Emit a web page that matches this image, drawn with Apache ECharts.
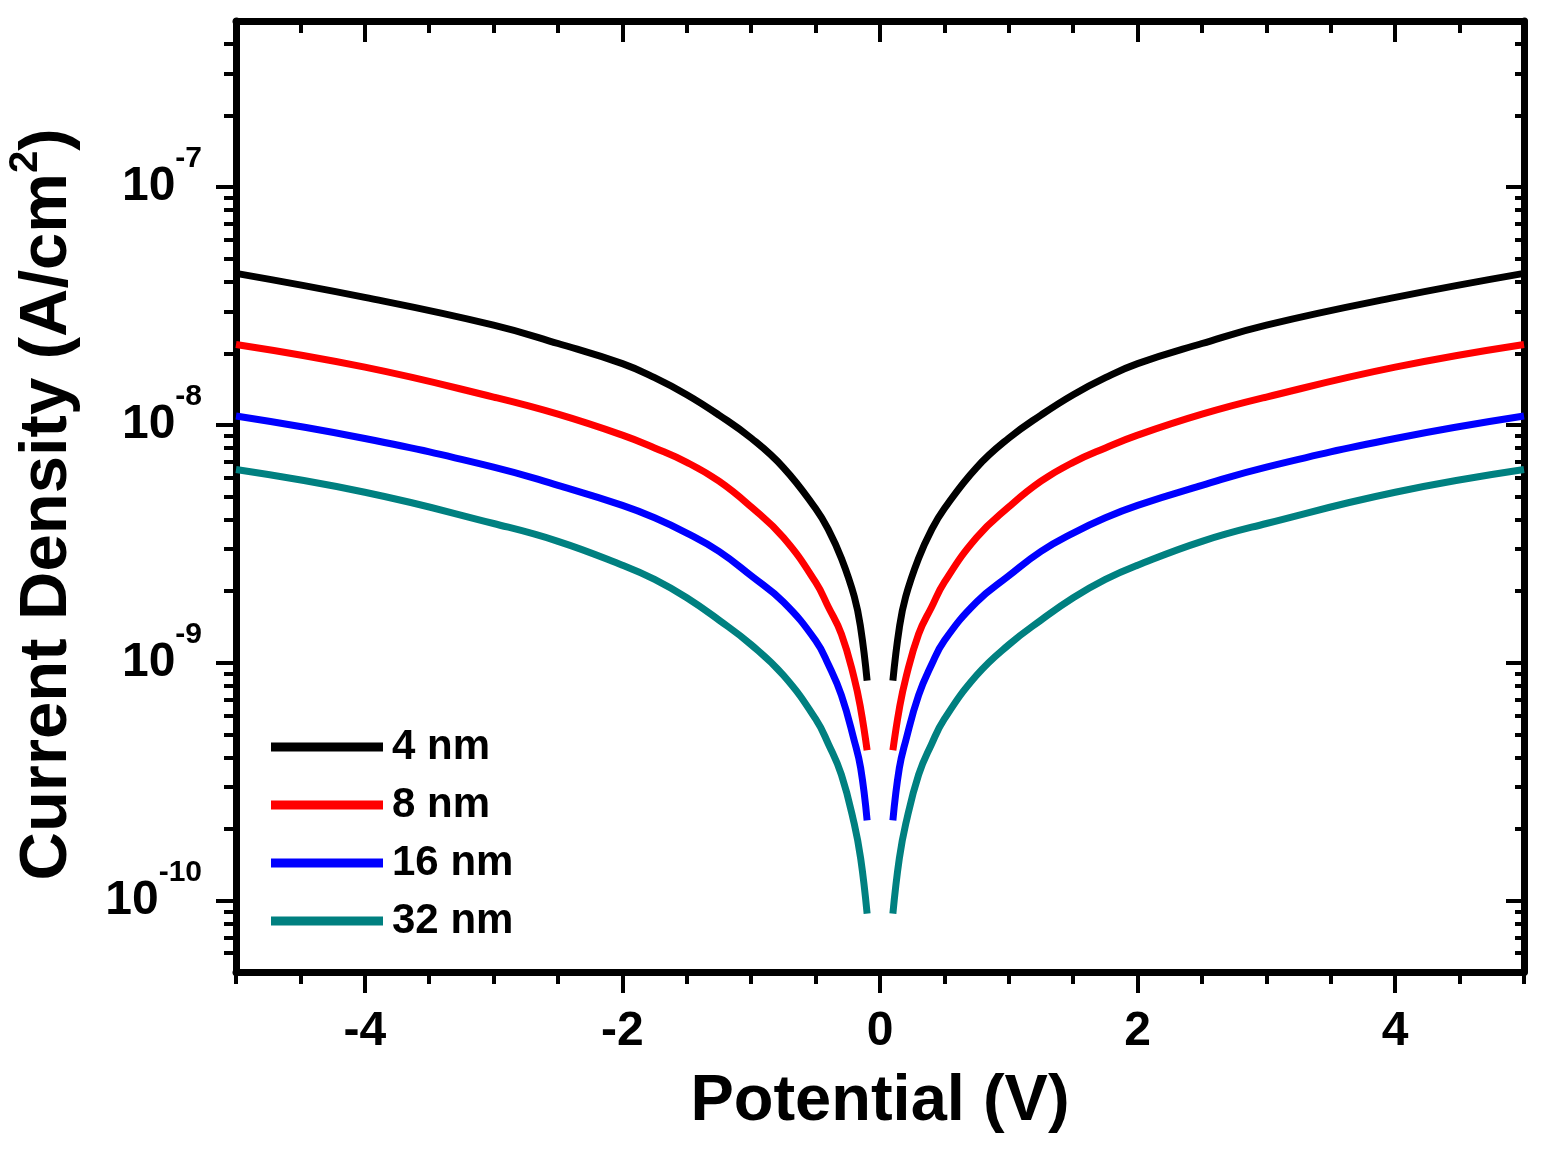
<!DOCTYPE html>
<html>
<head>
<meta charset="utf-8">
<title>Current Density vs Potential</title>
<script src="https://cdn.jsdelivr.net/npm/echarts@6/dist/echarts.min.js"></script>
<style>
  html, body { margin: 0; padding: 0; background: #fff; }
  #chart { width: 1543px; height: 1159px; }
</style>
</head>
<body>
<div id="chart"></div>
<script>
// potential (V); the point at 0 V has no value (log scale gap)
const voltage = [-5, -4, -3, -2.5, -2, -1.75, -1.5, -1.25, -1, -0.75, -0.5, -0.4, -0.3, -0.2, -0.15, -0.1,
  0,
  0.1, 0.15, 0.2, 0.3, 0.4, 0.5, 0.75, 1, 1.25, 1.5, 1.75, 2, 2.5, 3, 4, 5];

// current density (A/cm2)
const j4nm = [4.34e-8, 3.44e-8, 2.63e-8, 2.20e-8, 1.81e-8, 1.58e-8, 1.34e-8, 1.10e-8, 8.8e-9, 6.62e-9, 4.45e-9, 3.62e-9, 2.75e-9, 1.90e-9, 1.40e-9, 8.4e-10,
  null,
  8.4e-10, 1.40e-9, 1.90e-9, 2.75e-9, 3.62e-9, 4.45e-9, 6.62e-9, 8.8e-9, 1.10e-8, 1.34e-8, 1.58e-8, 1.81e-8, 2.20e-8, 2.63e-8, 3.44e-8, 4.34e-8];
const j8nm = [2.18e-8, 1.75e-8, 1.31e-8, 1.11e-8, 9.06e-9, 8.0e-9, 6.96e-9, 5.8e-9, 4.52e-9, 3.36e-9, 2.18e-9, 1.71e-9, 1.32e-9, 8.6e-10, 6.4e-10, 4.28e-10,
  null,
  4.28e-10, 6.4e-10, 8.6e-10, 1.32e-9, 1.71e-9, 2.18e-9, 3.36e-9, 4.52e-9, 5.8e-9, 6.96e-9, 8.0e-9, 9.06e-9, 1.11e-8, 1.31e-8, 1.75e-8, 2.18e-8];
const j16nm = [1.09e-8, 8.77e-9, 6.65e-9, 5.57e-9, 4.59e-9, 4.07e-9, 3.51e-9, 2.94e-9, 2.32e-9, 1.80e-9, 1.24e-9, 9.8e-10, 7.3e-10, 4.7e-10, 3.6e-10, 2.17e-10,
  null,
  2.17e-10, 3.6e-10, 4.7e-10, 7.3e-10, 9.8e-10, 1.24e-9, 1.80e-9, 2.32e-9, 2.94e-9, 3.51e-9, 4.07e-9, 4.59e-9, 5.57e-9, 6.65e-9, 8.77e-9, 1.09e-8];
const j32nm = [6.49e-9, 5.21e-9, 3.85e-9, 3.24e-9, 2.57e-9, 2.24e-9, 1.875e-9, 1.51e-9, 1.19e-9, 8.85e-10, 5.8e-10, 4.54e-10, 3.38e-10, 2.1e-10, 1.5e-10, 8.8e-11,
  null,
  8.8e-11, 1.5e-10, 2.1e-10, 3.38e-10, 4.54e-10, 5.8e-10, 8.85e-10, 1.19e-9, 1.51e-9, 1.875e-9, 2.24e-9, 2.57e-9, 3.24e-9, 3.85e-9, 5.21e-9, 6.49e-9];

const seriesNames = ['4 nm', '8 nm', '16 nm', '32 nm'];
const seriesColors = ['#000000', '#ff0000', '#0000ff', '#008080'];

// ticks
const xMajor = [-4, -2, 0, 2, 4];
const yMajor = [1e-10, 1e-9, 1e-8, 1e-7];
const yMinor = [6e-11, 7e-11, 8e-11, 9e-11,
  2e-10, 3e-10, 4e-10, 5e-10, 6e-10, 7e-10, 8e-10, 9e-10,
  2e-9, 3e-9, 4e-9, 5e-9, 6e-9, 7e-9, 8e-9, 9e-9,
  2e-8, 3e-8, 4e-8, 5e-8, 6e-8, 7e-8, 8e-8, 9e-8,
  2e-7, 3e-7, 4e-7];

const font = 'Liberation Sans, Arial, sans-serif';
const axisColor = '#000';

const chart = echarts.init(document.getElementById('chart'));

function xAx(pos, major) {
  return {
    type: 'value', position: pos, min: -5, max: 5,
    interval: major ? undefined : 0.5,
    axisLine: { show: major, onZero: false, lineStyle: { color: axisColor, width: 7 } },
    axisTick: major
      ? { show: true, inside: pos === 'top', length: 21, customValues: xMajor, lineStyle: { color: axisColor, width: 4 } }
      : { show: true, inside: pos === 'top', length: 12, lineStyle: { color: axisColor, width: 4 } },
    axisLabel: (major && pos === 'bottom')
      ? { show: true, customValues: xMajor, margin: 36, color: '#000', fontSize: 48, fontWeight: 'bold', fontFamily: font }
      : { show: false },
    splitLine: { show: false }
  };
}

function yAx(pos, major) {
  return {
    type: 'log', logBase: 10, position: pos, min: 5e-11, max: 5e-7,
    axisLine: { show: major, onZero: false, lineStyle: { color: axisColor, width: 7 } },
    axisTick: {
      show: true, inside: pos === 'right',
      length: major ? (pos === 'right' ? 18 : 20) : (pos === 'right' ? 9 : 12),
      customValues: major ? yMajor : yMinor,
      lineStyle: { color: axisColor, width: 4 }
    },
    axisLabel: (major && pos === 'left') ? {
      show: true, customValues: yMajor, margin: 34,
      formatter: function (v) {
        return '{b|10}{s|' + Math.round(Math.log10(v)) + '}';
      },
      rich: {
        b: { fontSize: 48, lineHeight: 86, fontWeight: 'bold', color: '#000', fontFamily: font },
        s: { fontSize: 30, lineHeight: 30, verticalAlign: 'top', fontWeight: 'bold', color: '#000', fontFamily: font }
      }
    } : { show: false },
    splitLine: { show: false },
    minorSplitLine: { show: false }
  };
}

const xAxes = [xAx('bottom', true), xAx('bottom', false), xAx('top', true), xAx('top', false)];
xAxes[0].name = 'Potential (V)';
xAxes[0].nameLocation = 'middle';
xAxes[0].nameGap = 98;
xAxes[0].nameTextStyle = { fontSize: 65, fontWeight: 'bold', color: '#000', fontFamily: font };

const yAxes = [yAx('left', true), yAx('left', false), yAx('right', true), yAx('right', false)];
yAxes[0].name = '{a|Current Density (A/cm}{s|2}{a|)}';
yAxes[0].nameLocation = 'middle';
yAxes[0].nameGap = 146;
yAxes[0].nameTextStyle = {
  padding: [0, 16, 0, 0],
  rich: {
    a: { fontSize: 67, lineHeight: 84, fontWeight: 'bold', color: '#000', fontFamily: font },
    s: { fontSize: 40, lineHeight: 40, verticalAlign: 'top', fontWeight: 'bold', color: '#000', fontFamily: font }
  }
};

const values = [j4nm, j8nm, j16nm, j32nm];

const option = {
  backgroundColor: '#fff',
  animation: false,
  grid: { left: 236, right: 19, top: 21, bottom: 187, outerBoundsMode: 'none' },
  legend: {
    orient: 'vertical', left: 266, top: 721,
    icon: 'rect', itemWidth: 112, itemHeight: 9, itemGap: 16,
    textStyle: { fontSize: 42, fontWeight: 'bold', color: '#000', fontFamily: font, lineHeight: 42, padding: [0, 0, 0, 4] },
    data: seriesNames
  },
  xAxis: xAxes,
  yAxis: yAxes,
  series: seriesNames.map(function (name, k) {
    return {
      name: name, type: 'line', xAxisIndex: 0, yAxisIndex: 0,
      showSymbol: false, smooth: 0.45, connectNulls: false,
      color: seriesColors[k],
      lineStyle: { width: 7, color: seriesColors[k] },
      data: voltage.map(function (v, i) { return [v, values[k][i]]; })
    };
  })
};

chart.setOption(option);
</script>
</body>
</html>
